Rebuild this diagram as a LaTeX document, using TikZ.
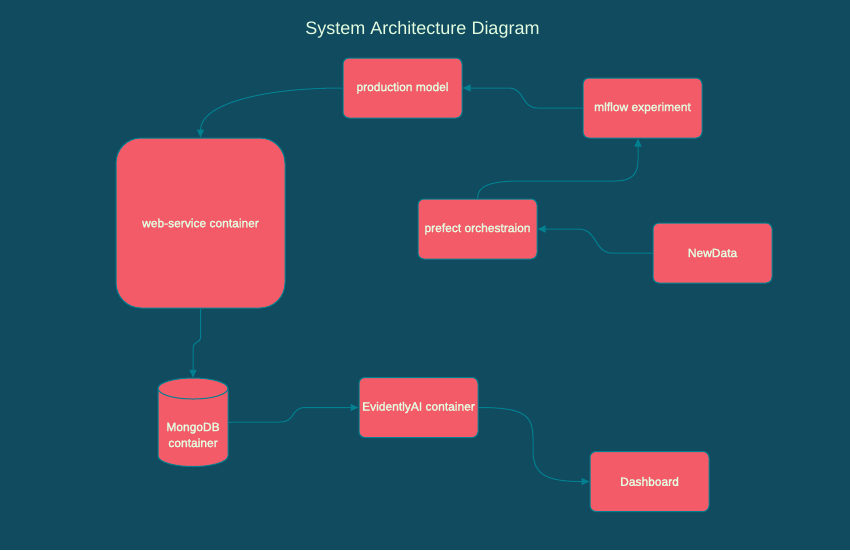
\documentclass[tikz,border=0pt]{standalone}
\usepackage{fontspec}
\setmainfont{Liberation Sans}
\newfontfamily\nodefont[BoldFont={Liberation Sans},BoldFeatures={FakeBold=2}]{Liberation Sans}
\usetikzlibrary{arrows.meta}
\definecolor{bgc}{HTML}{114B5F}
\definecolor{boxfill}{HTML}{F45B69}
\definecolor{edgec}{HTML}{028090}
\definecolor{txtc}{HTML}{E4FDE1}
\tikzset{
  box/.style={rectangle, rounded corners=6pt, draw=edgec, line width=1pt, fill=boxfill,
    minimum width=119pt, minimum height=60pt, inner sep=0pt, text=txtc,
    font=\nodefont\bfseries\fontsize{12}{14}\selectfont},
  bigbox/.style={box, rounded corners=25pt, minimum width=169pt, minimum height=170pt},
  conn/.style={draw=edgec, line width=1pt, -{Triangle[length=8pt,width=7pt]}},
  cyl/.style={draw=edgec, line width=1pt, fill=boxfill},
  lbl/.style={text=txtc, align=center, inner sep=0pt,
    font=\nodefont\bfseries\fontsize{12}{16}\selectfont},
  ttl/.style={text=txtc, inner sep=0pt, font=\fontsize{18}{22}\selectfont}
}
\begin{document}
\begin{tikzpicture}[x=1pt,y=-1pt]
\fill[bgc] (0,0) rectangle (850,550);
\useasboundingbox (0,0) rectangle (850,550);

\node[ttl] (title) at (422.5,30) {System Architecture Diagram};

\node[box] (prod) at (402.5,88) {production model};
\node[box] (ml) at (642.5,108) {mlflow experiment};
\node[bigbox] (web) at (200.5,223) {web-service container};
\node[box] (pre) at (477.5,229) {prefect orchestraion};
\node[box] (nd) at (712.5,253) {NewData};
\node[box] (ev) at (418.5,407.5) {EvidentlyAI container};
\node[box] (dash) at (649.5,481.5) {Dashboard};

% MongoDB cylinder
\path[cyl] (158,456) arc[start angle=180, end angle=360, x radius=35pt, y radius=10.5pt]
  -- (228,388.5) arc[start angle=0, end angle=180, x radius=35pt, y radius=10.5pt] -- cycle;
\draw[edgec, line width=1pt] (158,388.5) arc[start angle=180, end angle=360, x radius=35pt, y radius=10.5pt];
\node[minimum width=70pt, minimum height=88.5pt, inner sep=0pt] (mongo) at (193,422.25) {};
\node[lbl] (mongotxt) at (193,435) {MongoDB\\container};

% connectors
\draw[conn] (prod.west) .. controls +(-85,0) and +(0,-32) .. (web.north);
\draw[conn] (ml.west) -- (538,108) .. controls (520,108) and (526,88) .. (508,88) -- (prod.east);
\draw[conn] (pre.north) .. controls (477.5,186) and (490,181) .. (520,181) -- (615,181)
  .. controls (634,181) and (638,172) .. (638,160) -- ([xshift=-4.5pt]ml.south);
\draw[conn] (nd.west) -- (612,253) .. controls (594,253) and (598,229) .. (578,229) -- (pre.east);
\draw[conn] (web.south) -- (200.5,337) .. controls (200.5,344) and (193,340) .. (193,349) -- (mongo.north);
\draw[conn] (mongo.east) -- (280,422) .. controls (296,422) and (290,408) .. (305,407.5) -- (ev.west);
\draw[conn] (ev.east) .. controls (522,407.5) and (533,414) .. (533,438) -- (533,450)
  .. controls (533,474) and (545,481.5) .. (dash.west);
\end{tikzpicture}
\end{document}
